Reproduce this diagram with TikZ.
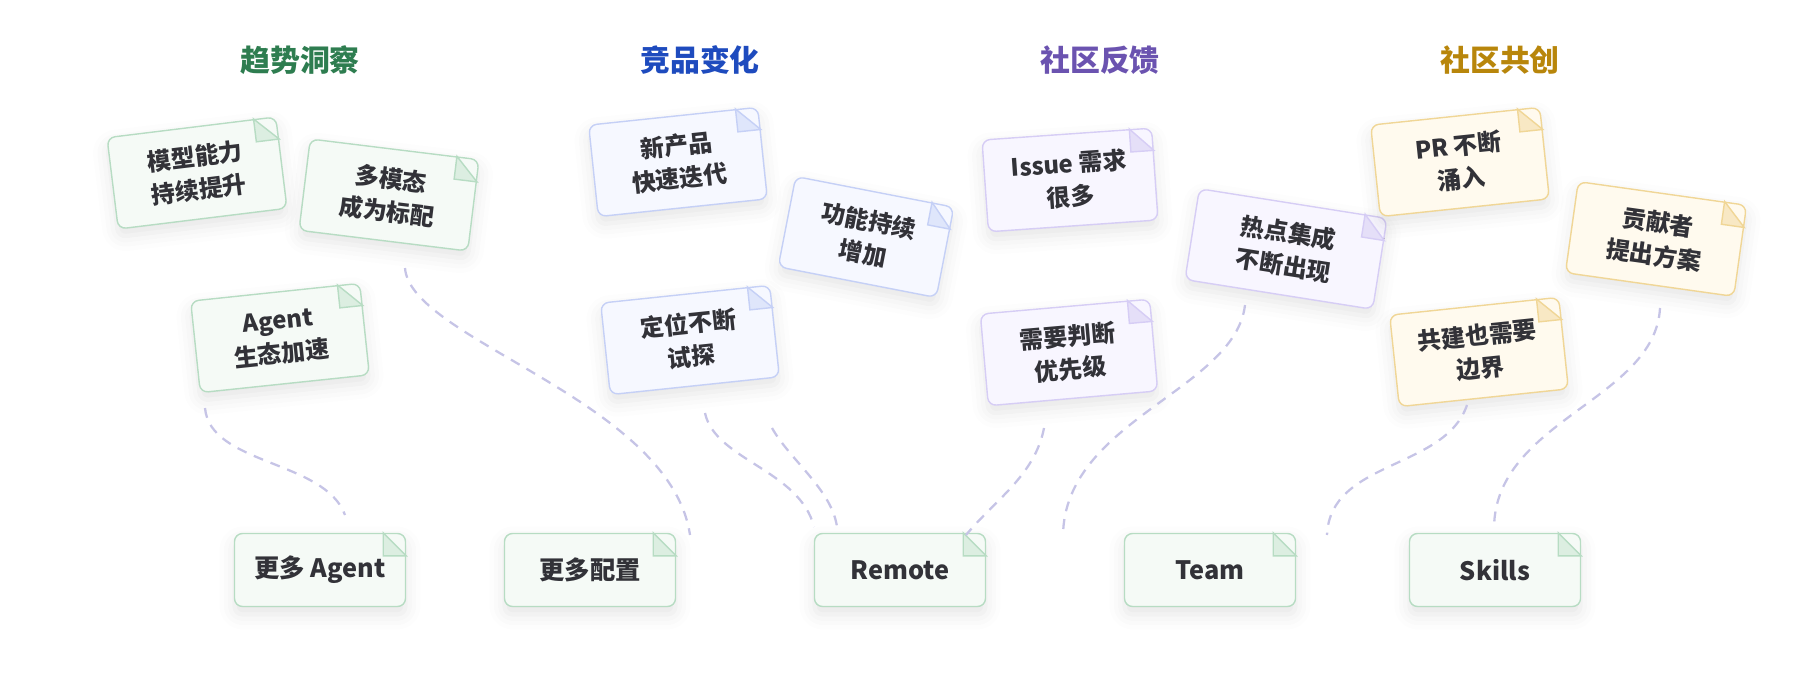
\documentclass[tikz,border=0pt]{standalone}
\usepackage{fontspec}
\setmainfont{Noto Sans CJK SC}
\usetikzlibrary{calc, shadows.blur}
\definecolor{ink}{RGB}{50,50,56}
\definecolor{linkc}{RGB}{198,196,230}
\definecolor{grnline}{RGB}{183,220,195}
\definecolor{grnfill}{RGB}{245,250,246}
\definecolor{grnfold}{RGB}{220,238,225}
\definecolor{grntitle}{RGB}{46,125,80}
\definecolor{bluline}{RGB}{197,208,246}
\definecolor{blufill}{RGB}{246,248,255}
\definecolor{blufold}{RGB}{223,230,251}
\definecolor{blutitle}{RGB}{30,75,190}
\definecolor{purline}{RGB}{214,205,245}
\definecolor{purfill}{RGB}{248,246,255}
\definecolor{purfold}{RGB}{229,223,248}
\definecolor{purtitle}{RGB}{107,83,176}
\definecolor{yelline}{RGB}{240,214,150}
\definecolor{yelfill}{RGB}{255,250,238}
\definecolor{yelfold}{RGB}{248,232,196}
\definecolor{yeltitle}{RGB}{184,134,11}

\begin{document}
\begin{tikzpicture}[font=\bfseries\fontsize{13.6}{18.8}\selectfont,
  title/.style={text=#1title, font=\bfseries\fontsize{17}{20}\selectfont},
  card/.style={draw=#1line, fill=#1fill, line width=0.8pt, rounded corners=0.16cm,
               text=ink, align=center, inner sep=0pt,
               minimum width=3.4cm, minimum height=1.84cm,
               blur shadow={shadow xshift=0pt, shadow yshift=-0.16cm,
                            shadow opacity=10, shadow blur radius=0.3cm}},
  goal/.style={card=grn, minimum width=3.42cm, minimum height=1.46cm,
               font=\bfseries\fontsize{14.4}{18}\selectfont},
  fold/.style={draw=#1line, fill=#1fold, line width=0.8pt},
  link/.style={draw=linkc, line width=1.3pt, dash pattern=on 0.2cm off 0.16cm}]

  \useasboundingbox (0,0) rectangle (36,-13.6);

  \node[title=grn] (t1) at (6,-1.2)  {趋势洞察};
  \node[title=blu] (t2) at (14,-1.2) {竞品变化};
  \node[title=pur] (t3) at (22,-1.2) {社区反馈};
  \node[title=yel] (t4) at (30,-1.2) {社区共创};

  \node[card=grn, rotate=7]  (c1) at (3.94,-3.46) {模型能力\\持续提升};
  \node[card=grn, rotate=-7] (c2) at (7.78,-3.90) {多模态\\成为标配};
  \node[card=grn, rotate=6]  (c3) at (5.60,-6.76) {Agent\\生态加速};

  \node[card=blu, rotate=6]  (b1) at (13.56,-3.24) {新产品\\快速迭代};
  \node[card=blu, rotate=-11, minimum width=3.22cm] (b2) at (17.32,-4.74) {功能持续\\增加};
  \node[card=blu, rotate=6]  (b3) at (13.80,-6.80) {定位不断\\试探};

  \node[card=pur, rotate=4]  (p1) at (21.40,-3.60) {Issue 需求\\很多};
  \node[card=pur, rotate=-9, minimum width=3.8cm] (p2) at (25.72,-4.98) {热点集成\\不断出现};
  \node[card=pur, rotate=5]  (p3) at (21.38,-7.05) {需要判断\\优先级};

  \node[card=yel, rotate=6]  (y1) at (29.20,-3.24) {PR 不断\\涌入};
  \node[card=yel, rotate=-8] (y2) at (33.12,-4.78) {贡献者\\提出方案};
  \node[card=yel, rotate=6]  (y3) at (29.58,-7.04) {共建也需要\\边界};

  \node[goal] (m1) at (6.40,-11.40)  {更多 Agent};
  \node[goal] (m2) at (11.80,-11.40) {更多配置};
  \node[goal] (m3) at (18.00,-11.40) {Remote};
  \node[goal] (m4) at (24.20,-11.40) {Team};
  \node[goal] (m5) at (29.90,-11.40) {Skills};

  \foreach \n/\k in {c1/grn, c2/grn, c3/grn, b1/blu, b2/blu, b3/blu,
                     p1/pur, p2/pur, p3/pur, y1/yel, y2/yel, y3/yel,
                     m1/grn, m2/grn, m3/grn, m4/grn, m5/grn} {
    \coordinate (fa) at ($(\n.north east)!0.46cm!(\n.north west)$);
    \coordinate (fb) at ($(\n.north east)!0.46cm!(\n.south east)$);
    \filldraw[fold=\k] (fa) -- ($(fa)+(fb)-(\n.north east)$) -- (fb) -- cycle;
  }

  \coordinate (c3o) at (4.10,-8.16);  \coordinate (m1i) at (6.90,-10.30);
  \coordinate (c2o) at (8.10,-5.36);  \coordinate (m2i) at (13.80,-10.70);
  \coordinate (b3o) at (14.10,-8.26); \coordinate (m3i) at (16.28,-10.54);
  \coordinate (b2o) at (15.44,-8.56); \coordinate (m3j) at (16.74,-10.54);
  \coordinate (p3o) at (20.88,-8.56); \coordinate (m3k) at (19.32,-10.70);
  \coordinate (p2o) at (24.90,-6.10); \coordinate (m4i) at (21.26,-10.70);
  \coordinate (y3o) at (29.34,-8.10); \coordinate (m4j) at (26.54,-10.70);
  \coordinate (y2o) at (33.20,-6.16); \coordinate (m5i) at (29.88,-10.56);

  \draw[link] (c3o) .. controls (4.20,-9.30) and (6.50,-9.20) .. (m1i);
  \draw[link] (c2o) .. controls (8.20,-6.80) and (13.40,-8.00) .. (m2i);
  \draw[link] (b3o) .. controls (14.30,-9.20) and (16.00,-9.40) .. (m3i);
  \draw[link] (b2o) .. controls (15.80,-9.20) and (16.64,-9.80) .. (m3j);
  \draw[link] (p3o) .. controls (20.70,-9.50) and (19.90,-10.00) .. (m3k);
  \draw[link] (p2o) .. controls (24.70,-7.80) and (21.30,-8.40) .. (m4i);
  \draw[link] (y3o) .. controls (28.90,-9.40) and (26.60,-9.20) .. (m4j);
  \draw[link] (y2o) .. controls (33.10,-8.00) and (29.90,-8.40) .. (m5i);
\end{tikzpicture}
\end{document}
